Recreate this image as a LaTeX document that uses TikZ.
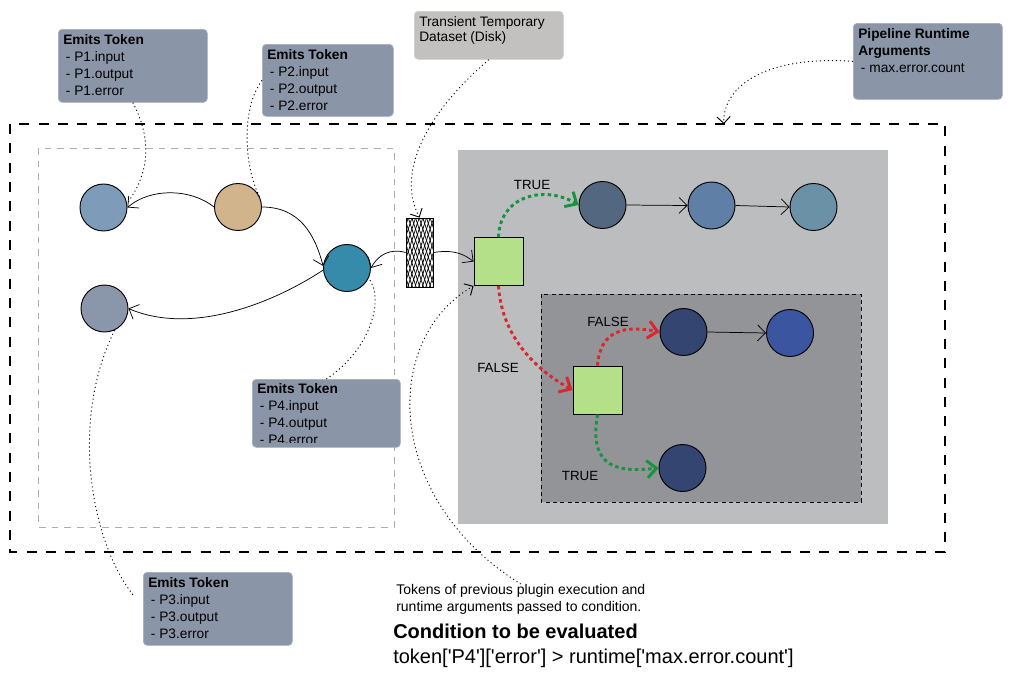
\documentclass[tikz,border=0pt]{standalone}
\usepackage{fontspec}
\setmainfont{Liberation Sans}
\newfontfamily\codefont{Liberation Sans}
\usetikzlibrary{arrows.meta,patterns.meta}
\definecolor{calloutc}{HTML}{8A96A8}
\definecolor{calloutb}{HTML}{A3ADBB}
\definecolor{transc}{HTML}{C2C1BF}
\definecolor{rightc}{HTML}{BCBDBF}
\definecolor{darkc}{HTML}{939498}
\definecolor{cA}{HTML}{7F9BBA}
\definecolor{cB}{HTML}{D1B38C}
\definecolor{cC}{HTML}{358BA9}
\definecolor{cD}{HTML}{8A97AA}
\definecolor{cE}{HTML}{546781}
\definecolor{cF}{HTML}{607FA7}
\definecolor{cG}{HTML}{6B91A7}
\definecolor{cH}{HTML}{334570}
\definecolor{cI}{HTML}{3B55A1}
\definecolor{sqg}{HTML}{B3E088}
\definecolor{gline}{HTML}{17923E}
\definecolor{rline}{HTML}{D9262F}
\begin{document}
\begin{tikzpicture}[x=0.75pt,y=-0.75pt,
  callout/.style={rounded corners=3pt, fill=calloutc, draw=calloutb, line width=0.5pt, inner sep=0, anchor=north west},
  ctext/.style={anchor=north west, align=left, inner sep=0, font=\fontsize{10.3pt}{12.7pt}\selectfont},
  lbl/.style={inner sep=0, font=\fontsize{10pt}{12pt}\selectfont},
  pn/.style={circle, draw=black, line width=0.7pt, minimum size=35.25pt, inner sep=0},
  sq/.style={rectangle, draw=black, line width=0.7pt, fill=sqg, minimum width=36.75pt, minimum height=36pt, inner sep=0},
  conn/.style={draw=black, line width=0.55pt, -{Straight Barb[length=6pt,width=12pt]}},
  note/.style={draw=black, line width=0.7pt, dash pattern=on 0.8pt off 2.2pt, -{Straight Barb[length=5pt,width=10pt]}},
  notenotip/.style={draw=black, line width=0.7pt, dash pattern=on 0.8pt off 2.2pt},
  garrow/.style={draw=gline, line width=2.2pt, dash pattern=on 2.6pt off 2.4pt, -{Straight Barb[length=7pt,width=13pt]}},
  rarrow/.style={draw=rline, line width=2.2pt, dash pattern=on 2.6pt off 2.4pt, -{Straight Barb[length=7pt,width=13pt]}}
]
\useasboundingbox (0,0) rectangle (1012,689);
\fill[white] (0,0) rectangle (1012,689);

% regions
\draw[black, line width=0.8pt, dash pattern=on 7.5pt off 7pt] (10,124) rectangle (945,552);
\draw[black!32, line width=0.6pt, dash pattern=on 5pt off 4.5pt] (38,148) rectangle (394,527);
\fill[rightc] (458,150) rectangle (888,524);
\filldraw[fill=darkc, draw=black, line width=0.7pt, dash pattern=on 3pt off 2.5pt] (541,294) rectangle (861,502);

% callouts
\node[callout, minimum width=111.75pt, minimum height=54.75pt] (p1) at (58,29) {};
\node[ctext] (p1t) at ([shift={(5,5)}]p1.north west) {\textbf{Emits Token}\\\hspace*{2pt}- P1.input\\\hspace*{2pt}- P1.output\\\hspace*{2pt}- P1.error};

\node[callout, minimum width=98.25pt, minimum height=54pt] (p2) at (262,44) {};
\node[ctext] (p2t) at ([shift={(5,5)}]p2.north west) {\textbf{Emits Token}\\\hspace*{2pt}- P2.input\\\hspace*{2pt}- P2.output\\\hspace*{2pt}- P2.error};

\node[callout, fill=transc, draw=transc!80!white, minimum width=111.75pt, minimum height=36pt] (tr) at (414,11) {};
\node[ctext, font=\fontsize{10.3pt}{11.5pt}\selectfont] (trt) at ([shift={(5,5)}]tr.north west) {Transient Temporary\\Dataset (Disk)};

\node[callout, minimum width=111.75pt, minimum height=57pt] (pr) at (853,23) {};
\node[ctext] (prt) at ([shift={(5,5)}]pr.north west) {\textbf{Pipeline Runtime}\\\textbf{Arguments}\\\hspace*{2pt}- max.error.count};

\node[callout, minimum width=111pt, minimum height=51pt] (p4) at (252,379) {};
\begin{scope}
\clip (p4.north west) rectangle ([shift={(0,-5)}]p4.south east);
\node[ctext] (p4t) at ([shift={(5,4)}]p4.north west) {\textbf{Emits Token}\\\hspace*{2pt}- P4.input\\\hspace*{2pt}- P4.output\\\hspace*{2pt}- P4.error};
\end{scope}

\node[callout, minimum width=111.75pt, minimum height=54.75pt] (p3) at (143,572) {};
\node[ctext] (p3t) at ([shift={(5,5)}]p3.north west) {\textbf{Emits Token}\\\hspace*{2pt}- P3.input\\\hspace*{2pt}- P3.output\\\hspace*{2pt}- P3.error};

% bottom texts
\node[ctext, font=\fontsize{10.5pt}{12.7pt}\selectfont] (nt) at (396,584) {Tokens of previous plugin execution and\\runtime arguments passed to condition.};
\node[anchor=north west, align=left, inner sep=0, font=\fontsize{15pt}{18.75pt}\selectfont] (cond) at (393,624) {\textbf{Condition to be evaluated}\\{\codefont token['P4']['error'] > runtime['max.error.count']}};

% plugin nodes
\node[pn, fill=cA] (a) at (103.5,207.5) {};
\node[pn, fill=cB] (b) at (238,207) {};
\node[pn, fill=cC] (c) at (347,268) {};
\node[pn, fill=cD] (d) at (104.5,308.5) {};
\node[draw=black, line width=0.6pt, minimum width=20.25pt, minimum height=51.75pt, inner sep=0,
  pattern={Lines[angle=72,distance=2.6pt,line width=0.55pt]},
  postaction={pattern={Lines[angle=-72,distance=2.6pt,line width=0.55pt]}}] (cyl) at (419.5,252.5) {};
\node[sq] (s1) at (498.5,261.5) {};
\node[sq] (s2) at (597.5,390) {};
\node[pn, fill=cE] (e) at (602.5,205) {};
\node[pn, fill=cF] (f) at (711.5,205.5) {};
\node[pn, fill=cG] (g) at (813.5,207) {};
\node[pn, fill=cH] (h) at (683.5,332) {};
\node[pn, fill=cI] (i) at (790,333) {};
\node[pn, fill=cH] (j) at (682.5,468) {};

% labels
\node[lbl] (lt1) at (532,185) {TRUE};
\node[lbl] (lf1) at (498,368) {FALSE};
\node[lbl] (lf2) at (608,322) {FALSE};
\node[lbl] (lt2) at (580,476) {TRUE};

% connectors
\draw[conn] (b.west) .. controls (190,188) and (150,188) .. (a.east);
\draw[conn] (b.east) .. controls (300,207) and (315,235) .. (c.175);
\draw[conn] (c.185) .. controls (270,305) and (190,335) .. (d.east);
\draw[conn] (cyl.west) .. controls (390,248) and (378,255) .. (c.east);
\draw[conn] (cyl.east) .. controls (455,249) and (465,255) .. (s1.west);
\draw[conn] (e.east) -- (f.west);
\draw[conn] (f.east) -- (g.west);
\draw[conn] (h.east) -- (i.west);

\draw[garrow] (s1.north) .. controls (500,195) and (545,185) .. (e.west);
\draw[rarrow] (s1.south) .. controls (502,340) and (540,372) .. (s2.west);
\draw[rarrow] (s2.north) .. controls (600,330) and (625,325) .. (h.west);
\draw[garrow] (s2.south) .. controls (588,470) and (620,472) .. (j.west);

% annotation links
\coordinate (pb) at (724,124);
\draw[notenotip] (p1.south) .. controls (150,135) and (152,170) .. (a.10);
\draw[notenotip] (p2.west) .. controls (240,110) and (245,170) .. (b.25);
\draw[note] (tr.south) .. controls (430,110) and (395,170) .. (cyl.north);
\draw[note] (pr.west) .. controls (760,55) and (722,90) .. (pb);
\draw[notenotip] (p4.north) .. controls (370,350) and (385,300) .. (c.-25);
\draw[notenotip] (d.-65) .. controls (70,420) and (90,540) .. ([shift={(-10,-14)}]p3.west);
\draw[note] (nt.north) .. controls (385,500) and (380,340) .. (s1.south west);
\end{tikzpicture}
\end{document}
